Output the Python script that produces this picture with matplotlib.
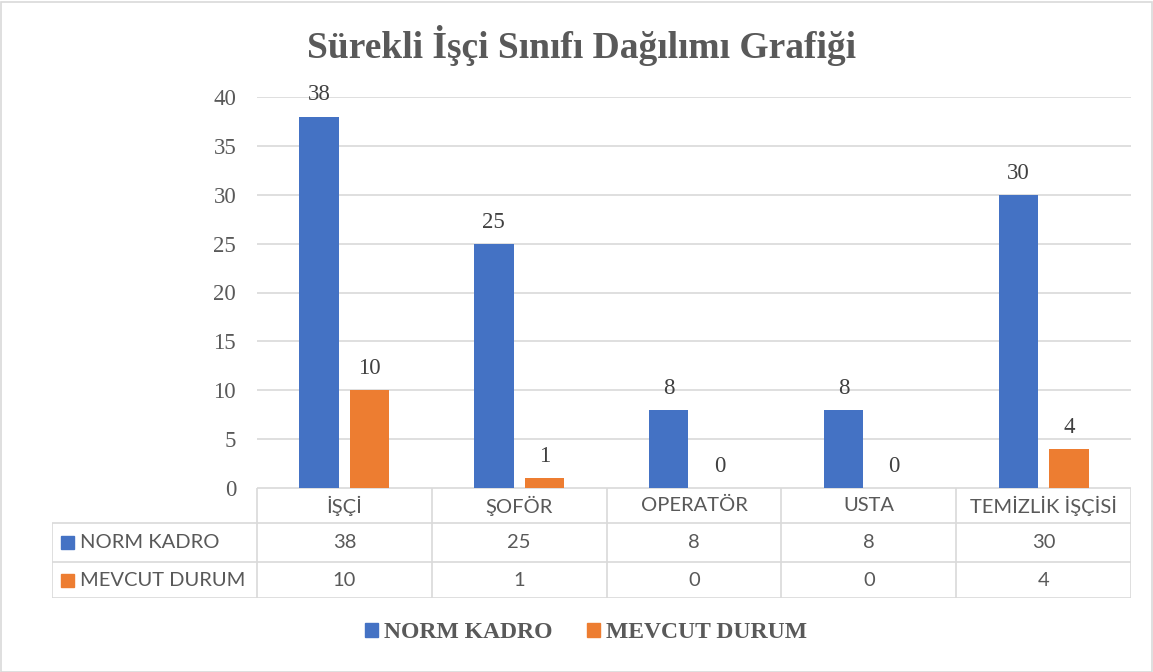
import matplotlib
matplotlib.use("Agg")
import matplotlib.pyplot as plt
from matplotlib.patches import Rectangle

# ── data ──────────────────────────────────────────────────────────────────────
categories = ["İŞÇİ", "ŞOFÖR", "OPERATÖR", "USTA", "TEMİZLİK İŞÇİSİ"]
norm_kadro = [38, 25, 8, 8, 30]
mevcut_durum = [10, 1, 0, 0, 4]
series_names = ["NORM KADRO", "MEVCUT DURUM"]
y_ticks = [0, 5, 10, 15, 20, 25, 30, 35, 40]

BLUE = "#4472C4"
ORANGE = "#ED7D31"
GRID = "#D9D9D9"
TXT = "#595959"
SERIF = "Liberation Serif"
SANS = "Lato"

W, H = 1153, 672
fig = plt.figure(figsize=(W / 100, H / 100), dpi=100)


def px_axes(x0, y0, x1, y1):
    # axes from pixel box (top-left origin)
    return fig.add_axes([x0 / W, 1 - y1 / H, (x1 - x0) / W, (y1 - y0) / H])


# outer border
fig.add_artist(Rectangle((0.5 / W, 0.5 / H), 1 - 2 / W, 1 - 2 / H,
                         transform=fig.transFigure, fill=False,
                         edgecolor=GRID, lw=1.2))

# ── main bar chart ────────────────────────────────────────────────────────────
plot_l, plot_r, plot_t, plot_b = 257, 1131, 97, 488
ax = px_axes(plot_l, plot_t, plot_r, plot_b)
x = list(range(len(categories)))
bw, off = 0.225, 0.145
b1 = ax.bar([i - off for i in x], norm_kadro, bw, color=BLUE, zorder=3)
b2 = ax.bar([i + off for i in x], mevcut_durum, bw, color=ORANGE, zorder=3)
for bars, vals in ((b1, norm_kadro), (b2, mevcut_durum)):
    for r, v in zip(bars, vals):
        ax.annotate(str(v), (r.get_x() + r.get_width() / 2, v),
                    xytext=(0, 8), textcoords="offset points",
                    ha="center", va="bottom", fontsize=16.5,
                    family=SERIF, color="#404040")

ax.set_xlim(-0.5, len(categories) - 0.5)
ax.set_ylim(0, 40)
ax.set_yticks(y_ticks)
ax.set_xticks([])
ax.yaxis.grid(True, color=GRID, lw=1.2, zorder=0)
for s in ax.spines.values():
    s.set_visible(False)
ax.tick_params(axis="y", length=0, pad=15, labelsize=16.5, labelcolor=TXT)
for lab in ax.get_yticklabels():
    lab.set_family(SERIF)

# ── data table below ──────────────────────────────────────────────────────────
unit = (plot_r - plot_l) / len(categories)
tab_l, tab_t, tab_b = 52, 488, 598
row_px = [488, 523, 562, 598]
tx0 = -0.5 - (plot_l - tab_l) / unit
tab = px_axes(tab_l, tab_t, plot_r, tab_b)
tab.set_xlim(tx0, len(categories) - 0.5)
tab.set_ylim(tab_b, tab_t)
tab.axis("off")

lk = dict(color=GRID, lw=1.2, solid_capstyle="butt")
tab.plot([-0.5, len(categories) - 0.5], [row_px[0], row_px[0]], **lk)
for yy in row_px[1:]:
    tab.plot([tx0, len(categories) - 0.5], [yy, yy], **lk)
tab.plot([tx0, tx0], [row_px[1], row_px[3]], **lk)
for k in range(len(categories) + 1):
    tab.plot([k - 0.5, k - 0.5], [row_px[0], row_px[3]], **lk)

mid = [(row_px[j] + row_px[j + 1]) / 2 for j in range(3)]
for i, c in enumerate(categories):
    for j, txt in enumerate((c, str(norm_kadro[i]), str(mevcut_durum[i]))):
        tab.text(i, mid[j], txt, ha="center", va="center", fontsize=14.5,
                 family=SANS, color=TXT)

for row, (name, col) in enumerate(zip(series_names, (BLUE, ORANGE))):
    xs = tx0 + 8.5 / unit
    tab.add_patch(Rectangle((xs, mid[row + 1] - 6.5), 13 / unit, 13,
                            color=col, clip_on=False))
    tab.text(xs + 19 / unit, mid[row + 1], name, ha="left", va="center",
             fontsize=14.5, family=SANS, color=TXT)

# ── title and legend ──────────────────────────────────────────────────────────
fig.text(0.5 + 5 / W, 1 - 45 / H, "Sürekli İşçi Sınıfı Dağılımı Grafiği",
         ha="center", va="center", fontsize=27, fontweight="bold",
         family=SERIF, color=TXT)

handles = [Rectangle((0, 0), 1, 1, color=BLUE), Rectangle((0, 0), 1, 1, color=ORANGE)]
leg = fig.legend(handles, series_names, loc="center",
                 bbox_to_anchor=(586 / W, 1 - 633 / H), ncol=2, frameon=False,
                 handlelength=0.52, handleheight=0.52, handletextpad=0.25,
                 columnspacing=1.5,
                 prop={"family": SERIF, "weight": "bold", "size": 17})
for t in leg.get_texts():
    t.set_color(TXT)

fig.savefig("out.png", dpi=100)
